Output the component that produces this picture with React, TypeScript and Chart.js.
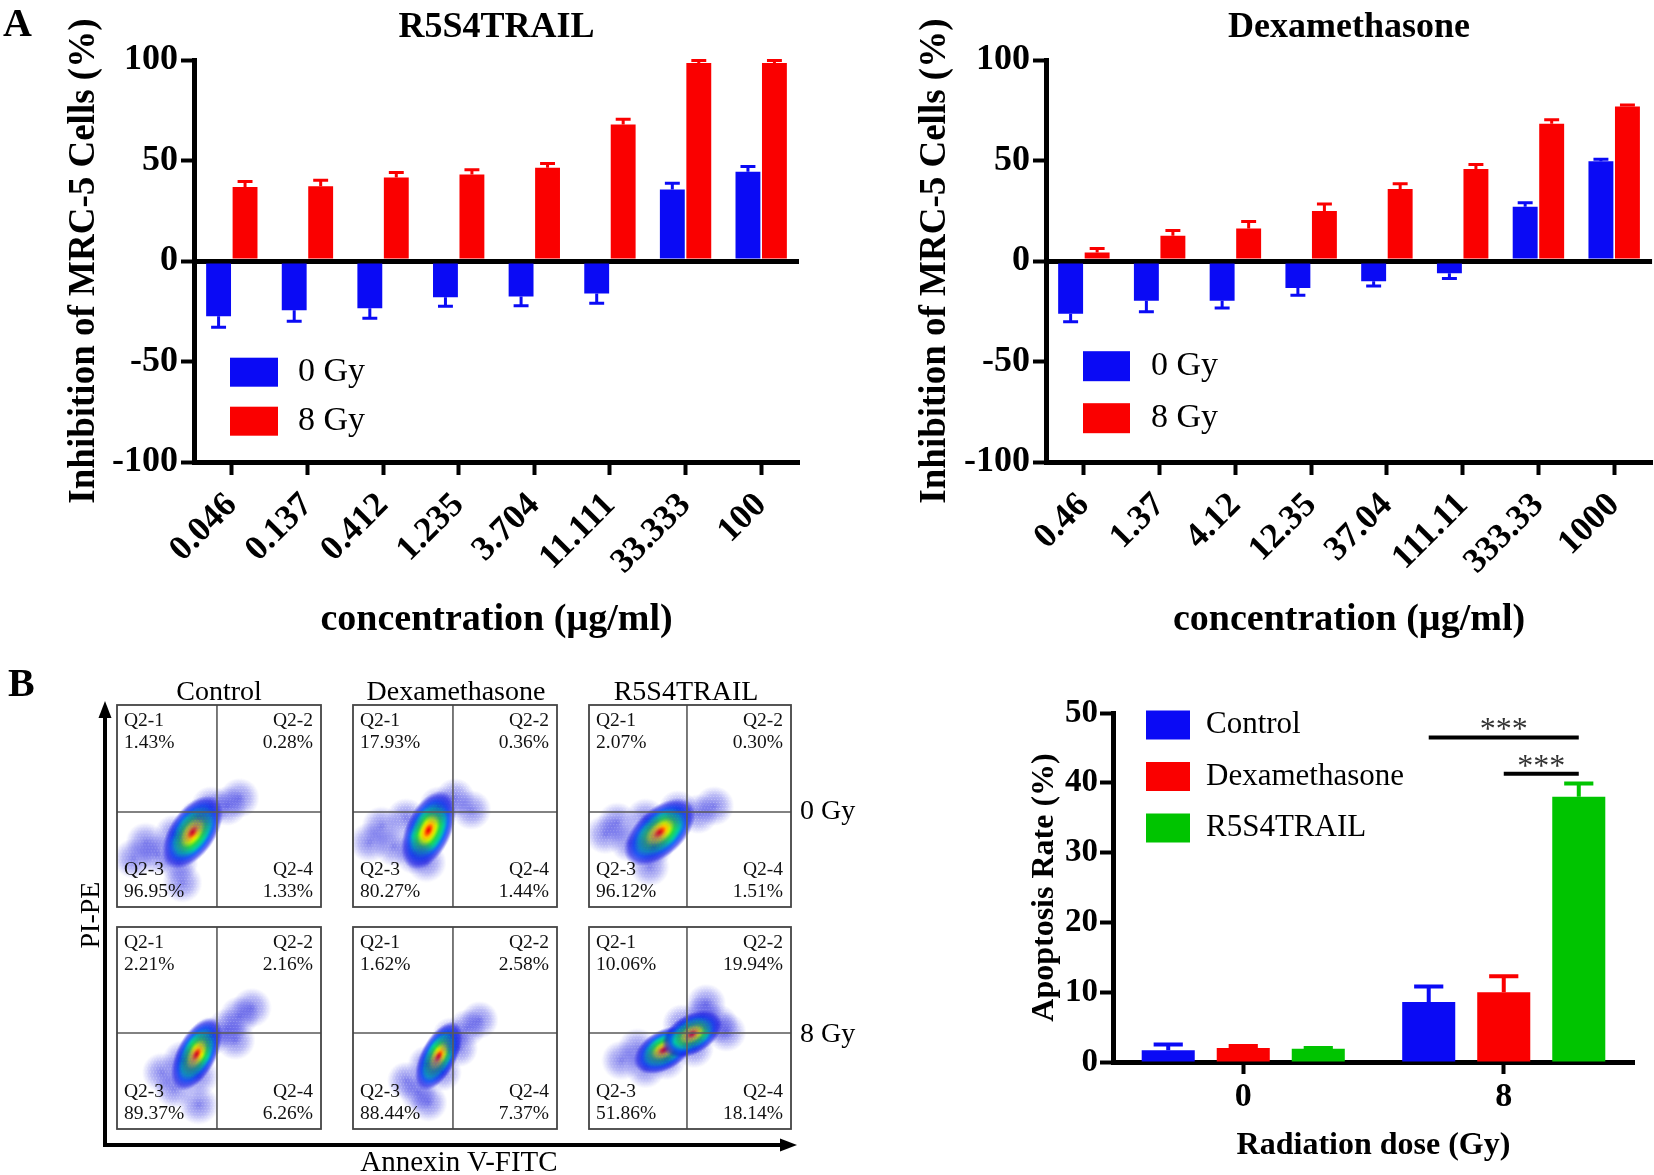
import React, { useEffect, useRef } from 'react';
import { Chart, registerables } from 'chart.js';

Chart.register(...registerables);

const FONT = "'Liberation Serif', 'Times New Roman', serif";
Chart.defaults.font.family = FONT;
Chart.defaults.color = '#000';

// ---------- Panel A: R5S4TRAIL ----------
const trailConcentrations = ['0.046', '0.137', '0.412', '1.235', '3.704', '11.111', '33.333', '100'];
const trailGy0 = [-27.5, -24.5, -23.5, -18, -17.6, -16.1, 35.7, 44.5];
const trailGy0Err = [5.4, 5.5, 4.9, 4.5, 4.6, 4.9, 3.1, 2.6];
const trailGy8 = [36.9, 37.3, 41.6, 43.1, 46.5, 68.0, 98.6, 98.6];
const trailGy8Err = [2.7, 2.9, 2.5, 2.4, 2.1, 2.6, 1.2, 1.2];

// ---------- Panel A: Dexamethasone ----------
const dexaConcentrations = ['0.46', '1.37', '4.12', '12.35', '37.04', '111.11', '333.33', '1000'];
const dexaGy0 = [-26.2, -19.7, -19.7, -13.4, -10, -6.1, 27, 49.7];
const dexaGy0Err = [4.0, 5.5, 3.6, 3.6, 2.4, 2.6, 2.0, 1.0];
const dexaGy8 = [4.3, 12.6, 16.2, 25, 35.9, 45.8, 68.4, 76.9];
const dexaGy8Err = [2.0, 2.6, 3.5, 3.4, 2.6, 2.3, 2.0, 0.8];

const doseLegend = ['0 Gy', '8 Gy'];

// ---------- Panel B: apoptosis rate ----------
const radiationDoses = ['0', '8'];
const apoptosisSeries = ['Control', 'Dexamethasone', 'R5S4TRAIL'];
const controlRate = [1.7, 8.6];
const controlRateErr = [0.8, 2.2];
const dexaRate = [2.0, 10.0];
const dexaRateErr = [0.3, 2.3];
const trailRate = [1.9, 38.0];
const trailRateErr = [0.1, 1.9];
const sigFromSeries = [0, 1];
const sigToSeries = [2, 2];
const sigCategory = [1, 1];
const sigLevel = [46.5, 41.3];
const sigLabel = ['***', '***'];

// ---------- Panel B: flow cytometry ----------
const flowGroups = ['Control', 'Dexamethasone', 'R5S4TRAIL'];
const flowDoses = ['0 Gy', '8 Gy'];
const quadrantNames = ['Q2-1', 'Q2-2', 'Q2-3', 'Q2-4'];
const control0Quadrants = ['1.43%', '0.28%', '96.95%', '1.33%'];
const dexa0Quadrants = ['17.93%', '0.36%', '80.27%', '1.44%'];
const trail0Quadrants = ['2.07%', '0.30%', '96.12%', '1.51%'];
const control8Quadrants = ['2.21%', '2.16%', '89.37%', '6.26%'];
const dexa8Quadrants = ['1.62%', '2.58%', '88.44%', '7.37%'];
const trail8Quadrants = ['10.06%', '19.94%', '51.86%', '18.14%'];
const gateAnnexin = [49, 49, 48.5];
const gatePI = [47, 47.5];
// cloud outline points and density cores (Annexin %, PI %)
const control0Cloud = [[8, 24], [14, 32], [20, 26], [28, 36], [30, 22], [40, 44], [46, 50], [54, 50], [60, 54], [32, 12]];
const control0Core = [[37, 37]];
const dexa0Cloud = [[8, 32], [14, 40], [20, 30], [26, 44], [30, 26], [42, 50], [50, 54], [58, 48], [36, 22]];
const dexa0Core = [[37, 38]];
const trail0Cloud = [[8, 36], [14, 42], [20, 32], [28, 44], [32, 30], [44, 48], [54, 46], [62, 50], [30, 20]];
const trail0Core = [[35, 37]];
const control8Cloud = [[22, 28], [28, 20], [32, 34], [40, 26], [46, 46], [54, 50], [60, 56], [66, 60], [58, 44], [40, 12]];
const control8Core = [[39, 37]];
const dexa8Cloud = [[26, 24], [32, 18], [36, 32], [44, 28], [48, 46], [56, 50], [62, 54], [52, 40], [37, 13]];
const dexa8Core = [[42, 36]];
const trail8Cloud = [[16, 34], [24, 40], [28, 30], [38, 34], [46, 52], [56, 56], [64, 52], [68, 48], [58, 62], [52, 40]];
const trail8Core = [[37, 39], [51, 47]];

const BLUE = '#0a0af5';
const RED = '#fa0000';
const GREEN = '#00c400';

// ---------- plugins ----------
const errorBarPlugin = {
  id: 'errorBars',
  afterDatasetsDraw(chart: any, _args: any, opts: any) {
    const ctx = chart.ctx;
    const yScale = chart.scales.y;
    chart.data.datasets.forEach((ds: any, di: number) => {
      if (!ds.errors) return;
      const meta = chart.getDatasetMeta(di);
      meta.data.forEach((bar: any, i: number) => {
        const v = ds.data[i];
        const e = ds.errors[i];
        const end = v >= 0 ? v + e : v - e;
        const p = bar.getProps(['x', 'y', 'width'], true);
        const yEnd = yScale.getPixelForValue(end);
        const cap = (p.width * opts.cap) / 2;
        ctx.save();
        ctx.strokeStyle = ds.backgroundColor;
        ctx.lineWidth = opts.lineWidth;
        ctx.beginPath();
        ctx.moveTo(p.x, p.y);
        ctx.lineTo(p.x, yEnd);
        ctx.moveTo(p.x - cap, yEnd);
        ctx.lineTo(p.x + cap, yEnd);
        ctx.stroke();
        ctx.restore();
      });
    });
  },
};

const boxLegendPlugin = {
  id: 'boxLegend',
  afterDraw(chart: any, _args: any, opts: any) {
    const { ctx, chartArea } = chart;
    ctx.save();
    chart.data.datasets.forEach((ds: any, i: number) => {
      const cy = chartArea.top + opts.top + i * opts.gap;
      const x = chartArea.left + opts.left;
      ctx.fillStyle = ds.backgroundColor;
      ctx.fillRect(x, cy - opts.boxH / 2, opts.boxW, opts.boxH);
      ctx.fillStyle = '#000';
      ctx.font = `${opts.size}px ${FONT}`;
      ctx.textBaseline = 'middle';
      ctx.textAlign = 'left';
      ctx.fillText(ds.label, x + opts.boxW + opts.textGap, cy);
    });
    ctx.restore();
  },
};

const significancePlugin = {
  id: 'significance',
  afterDatasetsDraw(chart: any, _args: any, opts: any) {
    const ctx = chart.ctx;
    const yScale = chart.scales.y;
    ctx.save();
    sigLevel.forEach((lvl, k) => {
      const a = chart.getDatasetMeta(sigFromSeries[k]).data[sigCategory[k]];
      const b = chart.getDatasetMeta(sigToSeries[k]).data[sigCategory[k]];
      const y = yScale.getPixelForValue(lvl);
      ctx.strokeStyle = '#000';
      ctx.lineWidth = opts.lineWidth;
      ctx.beginPath();
      ctx.moveTo(a.x, y);
      ctx.lineTo(b.x, y);
      ctx.stroke();
      ctx.fillStyle = '#333';
      ctx.font = `${opts.size}px ${FONT}`;
      ctx.textAlign = 'center';
      ctx.textBaseline = 'alphabetic';
      ctx.fillText(sigLabel[k], (a.x + b.x) / 2, y + opts.offset);
    });
    ctx.restore();
  },
};

const quadrantPlugin = {
  id: 'quadrants',
  afterDatasetsDraw(chart: any, _args: any, opts: any) {
    const { ctx, chartArea: ca, scales } = chart;
    const gx = scales.x.getPixelForValue(opts.gateX);
    const gy = scales.y.getPixelForValue(opts.gateY);
    ctx.save();
    ctx.strokeStyle = '#5a5a5a';
    ctx.lineWidth = 1.6;
    ctx.beginPath();
    ctx.moveTo(gx, ca.top);
    ctx.lineTo(gx, ca.bottom);
    ctx.moveTo(ca.left, gy);
    ctx.lineTo(ca.right, gy);
    ctx.stroke();
    ctx.strokeStyle = '#444';
    ctx.lineWidth = 1.8;
    ctx.strokeRect(ca.left, ca.top, ca.right - ca.left, ca.bottom - ca.top);
    ctx.fillStyle = '#111';
    ctx.font = `19.5px ${FONT}`;
    ctx.textBaseline = 'middle';
    const lx = ca.left + 7;
    const rx = ca.right - 8;
    const rows = [
      [ca.top + 16, ca.top + 38],
      [ca.bottom - 37, ca.bottom - 15],
    ];
    const cells = [
      [0, 'left', lx, 0],
      [1, 'right', rx, 0],
      [2, 'left', lx, 1],
      [3, 'right', rx, 1],
    ];
    cells.forEach(([qi, align, x, r]: any) => {
      ctx.textAlign = align;
      ctx.fillText(quadrantNames[qi], x, rows[r][0]);
      ctx.fillText(opts.values[qi], x, rows[r][1]);
    });
    ctx.restore();
  },
};

// ---------- point style images for flow clouds ----------
function makeHalo(d: number) {
  const c = document.createElement('canvas');
  c.width = d;
  c.height = d;
  const g = c.getContext('2d')!;
  const grad = g.createRadialGradient(d / 2, d / 2, 0, d / 2, d / 2, d / 2);
  grad.addColorStop(0, 'rgba(25,25,220,0.55)');
  grad.addColorStop(0.55, 'rgba(40,40,225,0.32)');
  grad.addColorStop(1, 'rgba(60,60,230,0)');
  g.fillStyle = grad;
  g.fillRect(0, 0, d, d);
  // fine speckle texture on a regular lattice
  g.globalCompositeOperation = 'destination-out';
  g.fillStyle = 'rgba(0,0,0,0.35)';
  for (let yy = 1; yy < d; yy += 3) {
    for (let xx = (yy % 2) + 1; xx < d; xx += 3) {
      g.fillRect(xx, yy, 1, 1);
    }
  }
  return c;
}

function makeCore(w: number, h: number) {
  const c = document.createElement('canvas');
  c.width = w;
  c.height = h;
  const g = c.getContext('2d')!;
  g.translate(w / 2, h / 2);
  g.scale(w / 2, h / 2);
  const grad = g.createRadialGradient(0, 0, 0, 0, 0, 1);
  grad.addColorStop(0, '#e60000');
  grad.addColorStop(0.08, '#ff4000');
  grad.addColorStop(0.18, '#ffc000');
  grad.addColorStop(0.28, '#c8f000');
  grad.addColorStop(0.42, '#28d848');
  grad.addColorStop(0.58, '#00c8a8');
  grad.addColorStop(0.72, 'rgba(0,90,250,0.9)');
  grad.addColorStop(0.86, 'rgba(10,20,230,0.6)');
  grad.addColorStop(1, 'rgba(10,10,230,0)');
  g.fillStyle = grad;
  g.beginPath();
  g.arc(0, 0, 1, 0, Math.PI * 2);
  g.fill();
  return c;
}

const toPts = (arr: number[][]) => arr.map(([x, y]) => ({ x, y }));

// ---------- config builders ----------
function doseResponseConfig(title: string, labels: string[], gy0: number[], gy0Err: number[], gy8: number[], gy8Err: number[], geo: any) {
  return {
    type: 'bar',
    data: {
      labels,
      datasets: [
        { label: doseLegend[0], data: gy0, errors: gy0Err, backgroundColor: BLUE, categoryPercentage: 0.7, barPercentage: 0.94 },
        { label: doseLegend[1], data: gy8, errors: gy8Err, backgroundColor: RED, categoryPercentage: 0.7, barPercentage: 0.94 },
      ],
    },
    options: {
      responsive: false,
      animation: false,
      events: [],
      layout: { padding: { left: 0, right: geo.right, top: 0, bottom: 0 } },
      plugins: {
        legend: { display: false },
        tooltip: { enabled: false },
        title: {
          display: true,
          text: title,
          fullSize: false,
          color: '#000',
          font: { size: 36, weight: 'bold' },
          padding: { top: 6, bottom: 11 },
        },
        errorBars: { lineWidth: 3, cap: 0.6 },
        boxLegend: geo.legend,
      },
      scales: {
        x: {
          grid: { offset: false, drawOnChartArea: false, drawTicks: true, tickLength: 13, tickWidth: 4, tickColor: '#000' },
          border: { display: true, color: '#000', width: 5 },
          ticks: { font: { size: 35, weight: 'bold' }, color: '#000', minRotation: 45, maxRotation: 45, autoSkip: false, padding: 10 },
          title: { display: true, text: 'concentration (µg/ml)', color: '#000', font: { size: 38, weight: 'bold' }, padding: { top: 0, bottom: 17 } },
          afterFit: (s: any) => { s.height = 198; },
        },
        y: {
          min: -100,
          max: 100,
          z: 1,
          ticks: { stepSize: 50, font: { size: 36, weight: 'bold' }, color: '#000', padding: 3 },
          grid: {
            color: (c: any) => (c.tick && c.tick.value === 0 ? '#000' : 'rgba(0,0,0,0)'),
            lineWidth: 5,
            drawTicks: true,
            tickLength: 13,
            tickWidth: 4,
            tickColor: '#000',
          },
          border: { display: true, color: '#000', width: 5 },
          title: { display: true, text: 'Inhibition of MRC-5 Cells (%)', color: '#000', font: { size: 37, weight: 'bold' }, padding: { top: geo.yTitlePad, bottom: 0 } },
          afterFit: (s: any) => { s.width = geo.yWidth; },
        },
      },
    },
    plugins: [errorBarPlugin, boxLegendPlugin],
  };
}

function apoptosisConfig() {
  const common = { categoryPercentage: 0.864, barPercentage: 0.707 };
  return {
    type: 'bar',
    data: {
      labels: radiationDoses,
      datasets: [
        { label: apoptosisSeries[0], data: controlRate, errors: controlRateErr, backgroundColor: BLUE, ...common },
        { label: apoptosisSeries[1], data: dexaRate, errors: dexaRateErr, backgroundColor: RED, ...common },
        { label: apoptosisSeries[2], data: trailRate, errors: trailRateErr, backgroundColor: GREEN, ...common },
      ],
    },
    options: {
      responsive: false,
      animation: false,
      events: [],
      layout: { padding: { left: 0, right: 20, top: 53, bottom: 0 } },
      plugins: {
        legend: { display: false },
        tooltip: { enabled: false },
        errorBars: { lineWidth: 4, cap: 0.55 },
        boxLegend: { left: 33, top: 12, gap: 51.5, boxW: 44, boxH: 29, textGap: 16, size: 31 },
        significance: { lineWidth: 4, size: 32, offset: 2 },
      },
      scales: {
        x: {
          grid: { offset: false, drawOnChartArea: false, drawTicks: true, tickLength: 12, tickWidth: 4, tickColor: '#000' },
          border: { display: true, color: '#000', width: 5 },
          ticks: { font: { size: 34, weight: 'bold' }, color: '#000', padding: 3 },
          title: { display: true, text: 'Radiation dose (Gy)', color: '#000', font: { size: 32, weight: 'bold' }, padding: { top: 0, bottom: 10 } },
          afterFit: (s: any) => { s.height = 113; },
        },
        y: {
          min: 0,
          max: 50,
          ticks: { stepSize: 10, font: { size: 33, weight: 'bold' }, color: '#000', padding: 2 },
          grid: { drawOnChartArea: false, drawTicks: true, tickLength: 13, tickWidth: 4, tickColor: '#000' },
          border: { display: true, color: '#000', width: 5 },
          title: { display: true, text: 'Apoptosis Rate (%)', color: '#000', font: { size: 32, weight: 'bold' }, padding: { top: 26, bottom: 0 } },
          afterFit: (s: any) => { s.width = 113; },
        },
      },
    },
    plugins: [errorBarPlugin, boxLegendPlugin, significancePlugin],
  };
}

function flowConfig(cloud: number[][], core: number[][], quadrants: string[], gx: number, gy: number, st: any) {
  return {
    type: 'scatter',
    data: {
      datasets: [
        { data: toPts(cloud), pointStyle: makeHalo(st.halo), pointRadius: 1, showLine: false },
        { data: toPts(core), pointStyle: makeCore(st.w, st.h), pointRotation: st.rot, pointRadius: 1, showLine: false },
      ],
    },
    options: {
      responsive: false,
      animation: false,
      events: [],
      layout: { padding: 2, autoPadding: false },
      plugins: { legend: { display: false }, tooltip: { enabled: false }, quadrants: { gateX: gx, gateY: gy, values: quadrants } },
      scales: {
        x: { display: false, min: 0, max: 100 },
        y: { display: false, min: 0, max: 100 },
      },
    },
    plugins: [quadrantPlugin],
  };
}

// ---------- components ----------
function ChartCanvas({ left, top, width, height, build }: { left: number; top: number; width: number; height: number; build: () => any }) {
  const ref = useRef<HTMLCanvasElement>(null);
  useEffect(() => {
    const chart = new Chart(ref.current as HTMLCanvasElement, build());
    return () => chart.destroy();
  }, []);
  return <canvas ref={ref} width={width} height={height} style={{ position: 'absolute', left, top, width, height }} />;
}

function Label({ text, cx, cy, size, bold, align, rotate }: { text: string; cx: number; cy: number; size: number; bold?: boolean; align?: string; rotate?: boolean }) {
  const base: any = {
    position: 'absolute',
    fontFamily: FONT,
    fontSize: size,
    lineHeight: `${size}px`,
    fontWeight: bold ? 'bold' : 'normal',
    whiteSpace: 'nowrap',
    color: '#000',
  };
  if (rotate) {
    return <div style={{ ...base, left: cx, top: cy, transform: 'translate(-50%, -50%) rotate(-90deg)' }}>{text}</div>;
  }
  if (align === 'left') {
    return <div style={{ ...base, left: cx, top: cy - size / 2 }}>{text}</div>;
  }
  return <div style={{ ...base, left: cx - 200, width: 400, textAlign: 'center', top: cy - size / 2 }}>{text}</div>;
}

const flowCols = [117, 353, 589];
const flowColW = [204, 204, 202];
const flowRows = [705, 927];
const flowRowH = 202;

const flowPanels = [
  { col: 0, row: 0, cloud: control0Cloud, core: control0Core, q: control0Quadrants, st: { halo: 40, w: 84, h: 46, rot: -55 } },
  { col: 1, row: 0, cloud: dexa0Cloud, core: dexa0Core, q: dexa0Quadrants, st: { halo: 40, w: 84, h: 46, rot: -65 } },
  { col: 2, row: 0, cloud: trail0Cloud, core: trail0Core, q: trail0Quadrants, st: { halo: 40, w: 86, h: 48, rot: -42 } },
  { col: 0, row: 1, cloud: control8Cloud, core: control8Core, q: control8Quadrants, st: { halo: 40, w: 80, h: 40, rot: -62 } },
  { col: 1, row: 1, cloud: dexa8Cloud, core: dexa8Core, q: dexa8Quadrants, st: { halo: 38, w: 76, h: 36, rot: -62 } },
  { col: 2, row: 1, cloud: trail8Cloud, core: trail8Core, q: trail8Quadrants, st: { halo: 40, w: 66, h: 40, rot: -30 } },
];

export default function App() {
  return (
    <div style={{ position: 'absolute', left: 0, top: 0, width: 1654, height: 1175, background: '#fff', overflow: 'hidden' }}>
      <ChartCanvas
        left={0}
        top={0}
        width={827}
        height={660}
        build={() =>
          doseResponseConfig('R5S4TRAIL', trailConcentrations, trailGy0, trailGy0Err, trailGy8, trailGy8Err, {
            right: 28,
            yWidth: 194,
            yTitlePad: 62,
            legend: { left: 36, top: 312, gap: 49, boxW: 48, boxH: 29, textGap: 20, size: 34 },
          })
        }
      />
      <ChartCanvas
        left={827}
        top={0}
        width={827}
        height={660}
        build={() =>
          doseResponseConfig('Dexamethasone', dexaConcentrations, dexaGy0, dexaGy0Err, dexaGy8, dexaGy8Err, {
            right: 0,
            yWidth: 219,
            yTitlePad: 86,
            legend: { left: 37, top: 306, gap: 52, boxW: 47, boxH: 30, textGap: 21, size: 34 },
          })
        }
      />
      <ChartCanvas left={1000} top={660} width={654} height={515} build={apoptosisConfig} />

      {flowPanels.map((p, i) => (
        <ChartCanvas
          key={i}
          left={flowCols[p.col] - 2}
          top={flowRows[p.row] - 2}
          width={flowColW[p.col] + 4}
          height={flowRowH + 4}
          build={() => flowConfig(p.cloud, p.core, p.q, gateAnnexin[p.col], gatePI[p.row], p.st)}
        />
      ))}

      <svg width={1654} height={1175} style={{ position: 'absolute', left: 0, top: 0, pointerEvents: 'none' }}>
        <line x1={105} y1={1147} x2={105} y2={714} stroke="#000" strokeWidth={4} />
        <polygon points="105,701 98.5,718 111.5,718" fill="#000" />
        <line x1={103} y1={1145} x2={784} y2={1145} stroke="#000" strokeWidth={4} />
        <polygon points="797,1145 780,1138.5 780,1151.5" fill="#000" />
      </svg>

      <Label text="A" cx={3} cy={23} size={40} bold align="left" />
      <Label text="B" cx={8} cy={683} size={40} bold align="left" />
      <Label text={flowGroups[0]} cx={219} cy={691} size={28} />
      <Label text={flowGroups[1]} cx={456} cy={691} size={28} />
      <Label text={flowGroups[2]} cx={686} cy={691} size={28} />
      <Label text={flowDoses[0]} cx={800} cy={810} size={28} align="left" />
      <Label text={flowDoses[1]} cx={800} cy={1033} size={28} align="left" />
      <Label text="PI-PE" cx={90} cy={915} size={28} rotate />
      <Label text="Annexin V-FITC" cx={459} cy={1161} size={29} />
    </div>
  );
}
